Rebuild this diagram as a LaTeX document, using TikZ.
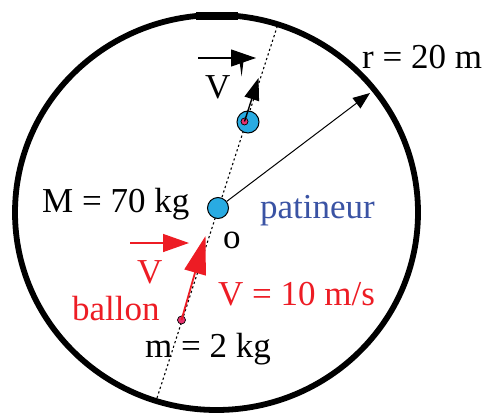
\documentclass[tikz,border=0pt]{standalone}
\usepackage{fontspec}
\setmainfont{Liberation Serif}
\usetikzlibrary{arrows.meta}
\definecolor{myred}{RGB}{237,28,36}
\definecolor{myblue}{RGB}{58,83,164}
\definecolor{mycyan}{RGB}{41,171,226}
\definecolor{mypink}{RGB}{230,50,110}
\tikzset{
  lbl/.style={font=\fontsize{35}{40}\selectfont, inner sep=0pt, anchor=base west},
  guide/.style={line width=1.1pt, dash pattern=on 2.2pt off 2.6pt},
  puck/.style={circle, draw=black, line width=1pt, fill=mycyan, inner sep=0pt},
  ballpt/.style={circle, fill=mypink, draw=black, line width=0.7pt, inner sep=0pt},
}
\begin{document}
\begin{tikzpicture}[x=1pt,y=-1pt]
\useasboundingbox (0,0) rectangle (489,412);
% rink
\draw[line width=5.8pt] (216.5,212.5) ellipse [x radius=201.5, y radius=197.5];
\draw[line width=7.5pt] (196,16) -- (238,16);
% dotted line
\coordinate (gA) at (157,398);
\coordinate (gB) at (277,27);
\draw[guide] (gA) -- (gB);
% pucks
\node[puck, minimum size=21pt] (pat) at (218,208) {};
\node[puck, minimum size=22pt] (pat2) at (248,122) {};
\node[ballpt, minimum size=7pt] (b2) at (244.5,121.5) {};
\node[ballpt, minimum size=8pt] (ball) at (181.5,320) {};
% radius
\coordinate (rimpt) at (370,93);
\draw[line width=1pt, -{Triangle[length=17pt,width=13pt]}] (pat) -- (rimpt);
% ball velocity
\coordinate (tipV) at (205.5,236);
\draw[myred, line width=1.8pt, -{Triangle[length=38pt,width=22pt]}] (ball.center) -- (tipV);
\coordinate (hA) at (130,243);
\coordinate (hB) at (189,243);
\draw[myred, line width=1.4pt, -{Triangle[length=26pt,width=18pt]}] (hA) -- (hB);
% V' arrows
\coordinate (tipV2) at (258.5,78);
\draw[line width=1.4pt, -{Triangle[length=22pt,width=15pt]}] (b2.center) -- (tipV2);
\coordinate (uA) at (198,58);
\coordinate (uB) at (256,58);
\draw[line width=1.2pt, -{Triangle[length=25pt,width=17pt]}] (uA) -- (uB);
\fill (239.6,62) -- (243.4,62) -- (241.6,76.5) -- cycle;
% labels
\node[lbl] (lM) at (42,212) {M = 70 kg};
\node[lbl, text=myblue] (lpat) at (260,218) {patineur};
\node[lbl] (lo) at (223,248) {o};
\node[lbl] (lr) at (362,68) {r = 20 m};
\node[lbl] (lVp) at (205,98) {V};
\node[lbl, text=myred] (lV) at (137,283) {V};
\node[lbl, text=myred] (lball) at (72,320) {ballon};
\node[lbl, text=myred] (lVv) at (218,305) {V = 10 m/s};
\node[lbl] (lm) at (145,357) {m = 2 kg};
\end{tikzpicture}
\end{document}
